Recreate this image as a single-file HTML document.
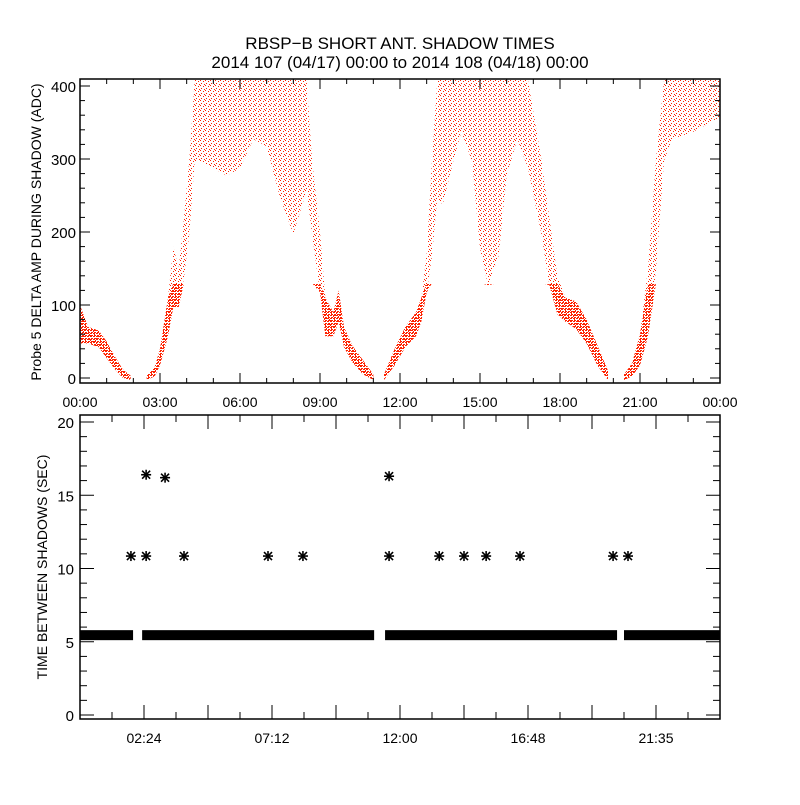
<!DOCTYPE html>
<html><head><meta charset="utf-8"><style>
body{margin:0;background:#fff}
svg text{font-family:"Liberation Sans",sans-serif;fill:#000}
</style></head><body>
<svg id="c" width="800" height="800" viewBox="0 0 800 800" xmlns="http://www.w3.org/2000/svg">
<defs>
<pattern id="dots" width="5" height="5" patternUnits="userSpaceOnUse">
<rect x="0" y="0" width="1" height="1" fill="#ff2200"/><rect x="3" y="1" width="1" height="1" fill="#ff2200"/><rect x="1" y="3" width="1" height="1" fill="#ff2200"/><rect x="4" y="4" width="1" height="1" fill="#ff2200"/>
</pattern>
<pattern id="dense" width="3" height="3" patternUnits="userSpaceOnUse">
<rect x="0" y="0" width="2" height="1" fill="#ff2200"/><rect x="1" y="2" width="2" height="1" fill="#ff2200"/>
</pattern>
</defs>
<text x="400" y="49" text-anchor="middle" font-size="17">RBSP−B SHORT ANT. SHADOW TIMES</text>
<text x="400" y="68" text-anchor="middle" font-size="17">2014 107 (04/17) 00:00 to 2014 108 (04/18) 00:00</text>
<g id="topPanel"></g>
<g id="botPanel"></g>
</svg>
<script>
// ---- top panel data: band segments (hours, low ADC, high ADC)
const seg1Hours=[0,0.3,0.7,1.0,1.3,1.6,1.9];
const seg1Low=[50,50,45,30,15,3,0];
const seg1High=[100,70,65,50,30,12,3];
const seg2Hours=[2.5,2.8,3.0,3.3,3.5,3.7,3.9,4.1,4.3,4.5,5.0,5.5,6.0,6.5,7.0,7.5,8.0,8.5,8.7,9.0,9.2,9.5,9.7,9.9,10.2,10.6,11.0];
const seg2Low=[0,5,20,60,100,100,140,200,300,300,290,280,290,330,320,250,200,260,200,120,60,60,80,45,25,8,0];
const seg2High=[3,15,40,110,180,150,220,300,410,410,410,410,410,410,410,410,410,410,300,200,110,90,120,70,45,25,5];
const seg3Hours=[11.4,11.8,12.2,12.6,12.8,13.0,13.2,13.4,13.6,14.0,14.3,14.7,15.0,15.3,15.7,16.0,16.4,16.8,17.3,17.6,17.9,18.2,18.6,19.0,19.4,19.8];
const seg3Low=[0,20,45,60,80,120,170,250,240,300,340,300,180,130,170,280,330,290,200,130,90,80,70,50,20,0];
const seg3High=[5,40,70,90,110,170,300,410,410,410,410,410,410,410,410,410,410,410,300,220,140,110,105,80,45,10];
const seg4Hours=[20.4,20.7,21.0,21.3,21.6,21.9,22.2,23.0,24.0];
const seg4Low=[0,5,20,60,150,300,330,340,360];
const seg4High=[5,20,60,150,300,410,410,410,410];
const topTicks=[0,3,6,9,12,15,18,21,24];
const topTickLabels=["00:00","03:00","06:00","09:00","12:00","15:00","18:00","21:00","00:00"];
const topYTicks=[0,100,200,300,400];

// ---- bottom panel data
const bandStarts=[0,2.33,11.44,20.4];
const bandEnds=[1.99,11.03,20.14,24];
const bandValue=[5.45];
const starHours=[1.91,2.48,3.9,7.05,8.36,11.59,13.47,14.4,15.23,16.5,19.99,20.55,2.48,3.19,11.59];
const starValues=[10.85,10.85,10.85,10.85,10.85,10.85,10.85,10.85,10.85,10.85,10.85,10.85,16.4,16.2,16.3];
const botTicks=[2.4,7.2,12,16.8,21.6];
const botTickLabels=["02:24","07:12","12:00","16:48","21:35"];
const botYTicks=[0,5,10,15,20];

const NS="http://www.w3.org/2000/svg";
function mk(tag,attrs,parent){const e=document.createElementNS(NS,tag);for(const k in attrs)e.setAttribute(k,attrs[k]);parent.appendChild(e);return e;}
const X0=80,X1=720;
const xs=h=>X0+(h/24)*(X1-X0);
const T0=79,T1=383;
const ysT=v=>378-v*0.73;
const B0=415,B1=719;
const ysB=v=>715-v*14.65;

const topG=document.getElementById('topPanel'), botG=document.getElementById('botPanel');

function band(hours,low,high,name){
  let pts=[];
  for(let i=0;i<hours.length;i++)pts.push(xs(hours[i])+','+Math.max(T0+1,ysT(high[i])));
  for(let i=hours.length-1;i>=0;i--)pts.push(xs(hours[i])+','+Math.min(T1,ysT(low[i])+2));
  const p=mk('polygon',{points:pts.join(' '),fill:'url(#dots)'},topG);
  
  
  // denser overlay where band is low amplitude (<130)
  let q=[];
  for(let i=0;i<hours.length;i++)pts.length&&q.push(xs(hours[i])+','+Math.max(ysT(130),ysT(high[i])));
  for(let i=hours.length-1;i>=0;i--)q.push(xs(hours[i])+','+Math.max(ysT(130),Math.min(T1,ysT(low[i])+2)));
  const d=mk('polygon',{points:q.join(' '),fill:'url(#dense)'},topG);
  
  
}
band(seg1Hours,seg1Low,seg1High,'amp-band-1');
band(seg2Hours,seg2Low,seg2High,'amp-band-2');
band(seg3Hours,seg3Low,seg3High,'amp-band-3');
band(seg4Hours,seg4Low,seg4High,'amp-band-4');

function frame(g,y0,y1,name){
  const r=mk('rect',{x:X0,y:y0,width:X1-X0,height:y1-y0,fill:'none',stroke:'#000','stroke-width':1.5},g);
  
  
}
frame(topG,T0,T1,'top-plot-frame');
frame(botG,B0,B1,'bottom-plot-frame');

for(let h=0;h<=24;h++){
  const x=xs(h), L=(h%3==0)?10:5;
  mk('line',{x1:x,x2:x,y1:T1,y2:T1-L,stroke:'#000'},topG);
  mk('line',{x1:x,x2:x,y1:T0,y2:T0+L,stroke:'#000'},topG);
}
topTicks.forEach((h,i)=>{
  const t=mk('text',{x:xs(h),y:T1+24,'text-anchor':'middle','font-size':14},topG);
  t.textContent=topTickLabels[i];
  
  
});
for(let v=0;v<=400;v+=20){
  const y=ysT(v), L=(v%100==0)?10:5;
  mk('line',{x1:X0,x2:X0+L,y1:y,y2:y,stroke:'#000'},topG);
  mk('line',{x1:X1,x2:X1-L,y1:y,y2:y,stroke:'#000'},topG);
}
topYTicks.forEach(v=>{
  const t=mk('text',{x:X0-4,y:ysT(v)+6,'text-anchor':'end','font-size':15},topG);
  t.textContent=v;
  
  
});
const yt=mk('text',{x:0,y:0,transform:'translate(41,232) rotate(-90)','text-anchor':'middle','font-size':14},topG);
yt.textContent='Probe 5 DELTA AMP DURING SHADOW (ADC)';



for(let k=0;k<=20;k++){
  const h=k*1.2, x=xs(h), L=(k%2==0)?14:7;
  mk('line',{x1:x,x2:x,y1:B1,y2:B1-L,stroke:'#000'},botG);
  mk('line',{x1:x,x2:x,y1:B0,y2:B0+L,stroke:'#000'},botG);
}
botTicks.forEach((h,i)=>{
  const t=mk('text',{x:xs(h),y:B1+24,'text-anchor':'middle','font-size':14},botG);
  t.textContent=botTickLabels[i];
  
  
});
for(let v=0;v<=20;v++){
  const y=ysB(v), L=(v%5==0)?14:7;
  mk('line',{x1:X0,x2:X0+L,y1:y,y2:y,stroke:'#000'},botG);
  mk('line',{x1:X1,x2:X1-L,y1:y,y2:y,stroke:'#000'},botG);
}
botYTicks.forEach(v=>{
  const t=mk('text',{x:X0-6,y:ysB(v)+6,'text-anchor':'end','font-size':15},botG);
  t.textContent=v;
  
  
});
const yb=mk('text',{x:0,y:0,transform:'translate(47,567) rotate(-90)','text-anchor':'middle','font-size':14},botG);
yb.textContent='TIME BETWEEN SHADOWS (SEC)';



bandStarts.forEach((s,i)=>{
  const r=mk('rect',{x:xs(s),y:ysB(bandValue[0])-5,width:xs(bandEnds[i])-xs(s),height:10,fill:'#000'},botG);
  
  
});
starHours.forEach((h,i)=>{
  const cx=xs(h), cy=ysB(starValues[i]);
  const g=mk('g',{stroke:'#000','stroke-width':1.6},botG);
  
  
  mk('line',{x1:cx-5,x2:cx+5,y1:cy,y2:cy},g);
  mk('line',{x1:cx,x2:cx,y1:cy-5,y2:cy+5},g);
  mk('line',{x1:cx-4,x2:cx+4,y1:cy-4,y2:cy+4},g);
  mk('line',{x1:cx-4,x2:cx+4,y1:cy+4,y2:cy-4},g);
});
</script>
</body></html>
